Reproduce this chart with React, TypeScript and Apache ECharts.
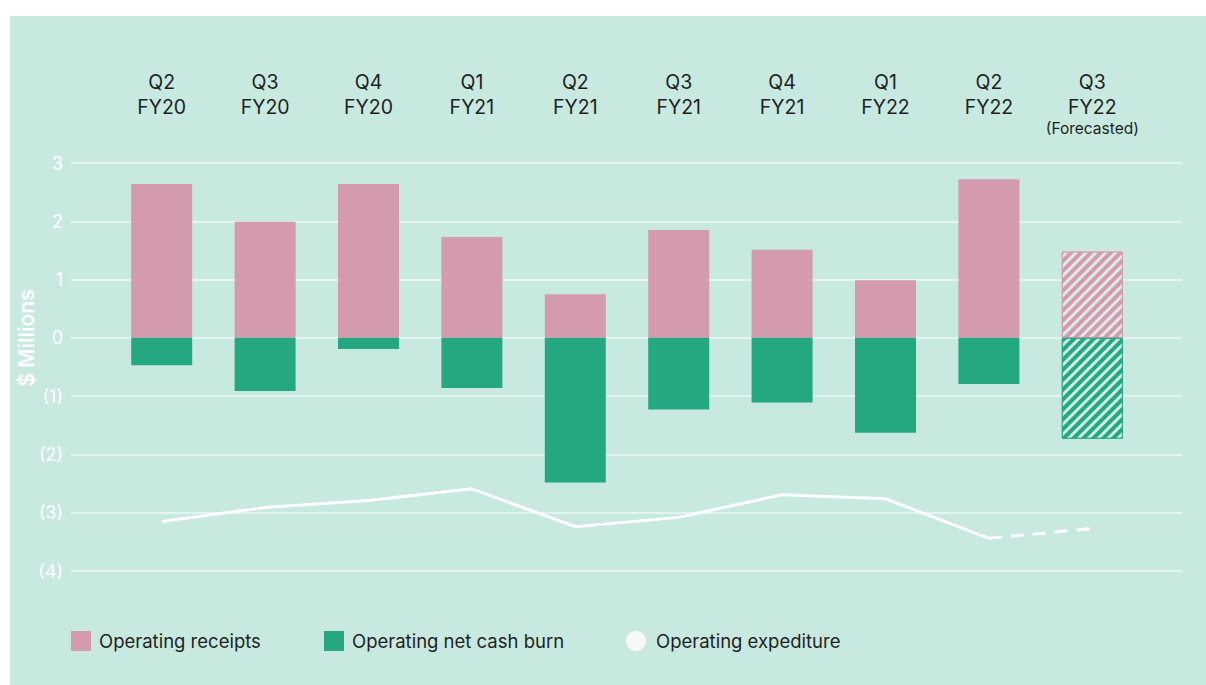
import React, { useEffect, useRef } from "react";
import * as echarts from "echarts";

const categories = [
  "Q2\nFY20", "Q3\nFY20", "Q4\nFY20", "Q1\nFY21", "Q2\nFY21",
  "Q3\nFY21", "Q4\nFY21", "Q1\nFY22", "Q2\nFY22", "Q3\nFY22",
];
const forecastNote = "(Forecasted)";
const receipts = [2.64, 1.99, 2.64, 1.73, 0.75, 1.85, 1.51, 0.99, 2.72, 1.48];
const netCashBurn = [-0.47, -0.91, -0.19, -0.86, -2.48, -1.23, -1.11, -1.63, -0.79, -1.73];
const expenditure = [-3.15, -2.91, -2.79, -2.59, -3.24, -3.08, -2.69, -2.76, -3.44, -3.27];
const forecastIndex = 9;
const yTicks = [-4, -3, -2, -1, 0, 1, 2, 3];

const PINK = "#d49aad";
const GREEN = "#25a882";
const BG = "#c8e9e0";
const GRID = "#eef8f5";
const TEXT = "#1f1f1f";
const FONT = "Inter, 'Noto Sans', sans-serif";

const fmtY = (v: number) => (v < 0 ? `(${Math.abs(v)})` : `${v}`);

const decal = {
  symbol: "rect",
  symbolSize: 1,
  dashArrayX: [1, 0],
  dashArrayY: [2.5, 3.5],
  rotation: -Math.PI / 4,
  color: "rgba(222,244,237,0.92)",
};

export default function App() {
  const ref = useRef<HTMLDivElement>(null);
  useEffect(() => {
    if (!ref.current) return;
    const chart = echarts.init(ref.current, undefined, { renderer: "svg" });
    const yMin = yTicks[0];
    const yMax = yTicks[yTicks.length - 1];
    const solid = expenditure.map((v, i) => (i <= forecastIndex - 1 ? v : null));
    const dashed = expenditure.map((v, i) => (i >= forecastIndex - 1 ? v : null));
    const legendText = { color: TEXT, fontSize: 18.5, fontFamily: FONT, padding: [0, 0, 0, 3] };
    chart.setOption({
      animation: false,
      textStyle: { fontFamily: FONT },
      graphic: [
        {
          type: "rect",
          z: -10,
          shape: { x: 10, y: 16, width: 1196, height: 669 },
          style: { fill: BG },
        },
        {
          type: "text",
          x: 26,
          y: 338,
          rotation: Math.PI / 2,
          style: {
            text: "$ Millions",
            fill: "#ffffff",
            font: `600 21px ${FONT}`,
            align: "center",
            verticalAlign: "middle",
          },
        },
      ],
      grid: [
        { left: 71, right: 24, top: 163, bottom: 114 },
        { left: 110, right: 62, top: 163, bottom: 114 },
      ],
      legend: [
        {
          left: 66, top: 626, itemWidth: 20, itemHeight: 20, itemGap: 8, icon: "rect",
          data: ["Operating receipts"],
          textStyle: legendText,
          selectedMode: false,
        },
        {
          left: 319, top: 626, itemWidth: 20, itemHeight: 20, itemGap: 8, icon: "rect",
          data: ["Operating net cash burn"],
          textStyle: legendText,
          selectedMode: false,
        },
        {
          left: 621, top: 626, itemWidth: 20, itemHeight: 20, itemGap: 10,
          data: [{ name: "Operating expediture", icon: "circle", itemStyle: { color: "#f8f8f8" } }],
          textStyle: { ...legendText, padding: [0, 0, 0, 5] },
          selectedMode: false,
        },
      ],
      xAxis: [
        {
          type: "category",
          gridIndex: 0,
          data: categories,
          show: false,
        },
        {
          type: "category",
          gridIndex: 1,
          position: "top",
          data: categories,
          axisLine: { show: false },
          axisTick: { show: false },
          axisLabel: {
            interval: 0,
            margin: 94,
            verticalAlign: "top",
            color: TEXT,
            fontSize: 19.5,
            lineHeight: 25,
            fontFamily: FONT,
            formatter: (v: string, i: number) => {
              const lines = v.split("\n").map((s) => `{a|${s}}`).join("\n");
              return i === forecastIndex ? `${lines}\n{b|${forecastNote}}` : lines;
            },
            rich: {
              a: { fontSize: 19.5, lineHeight: 25, color: TEXT, fontFamily: FONT },
              b: { fontSize: 15.5, lineHeight: 19, color: TEXT, fontFamily: FONT },
            },
          },
        },
      ],
      yAxis: [
        {
          type: "value",
          gridIndex: 0,
          min: yMin,
          max: yMax,
          interval: 1,
          axisLine: { show: false },
          axisTick: { show: false },
          splitLine: { lineStyle: { color: GRID, width: 1.5 } },
          axisLabel: {
            color: "#ffffff",
            fontSize: 18,
            margin: 8,
            fontFamily: FONT,
            formatter: fmtY,
          },
        },
        {
          type: "value",
          gridIndex: 1,
          min: yMin,
          max: yMax,
          interval: 1,
          show: false,
        },
      ],
      series: [
        {
          name: "Operating receipts",
          type: "bar",
          xAxisIndex: 1,
          yAxisIndex: 1,
          stack: "s",
          barWidth: 61,
          itemStyle: { color: PINK },
          data: receipts.map((v, i) =>
            i === forecastIndex
              ? { value: v, itemStyle: { color: PINK, decal, borderColor: PINK, borderWidth: 1 } }
              : v
          ),
        },
        {
          name: "Operating net cash burn",
          type: "bar",
          xAxisIndex: 1,
          yAxisIndex: 1,
          stack: "s",
          barWidth: 61,
          itemStyle: { color: GREEN },
          data: netCashBurn.map((v, i) =>
            i === forecastIndex
              ? { value: v, itemStyle: { color: GREEN, decal, borderColor: GREEN, borderWidth: 1 } }
              : v
          ),
        },
        {
          name: "Operating expediture",
          type: "line",
          xAxisIndex: 1,
          yAxisIndex: 1,
          symbol: "none",
          itemStyle: { color: "#f8f8f8" },
          lineStyle: { color: "#ffffff", width: 3 },
          data: solid,
          z: 5,
        },
        {
          name: "Operating expediture forecast",
          type: "line",
          xAxisIndex: 1,
          yAxisIndex: 1,
          symbol: "none",
          lineStyle: { color: "#ffffff", width: 3, type: [13, 9] },
          data: dashed,
          z: 5,
        },
      ],
    });
    return () => chart.dispose();
  }, []);
  return (
    <div
      style={{ position: "fixed", left: 0, top: 0, width: 1206, height: 685, background: "#ffffff" }}
    >
      <div ref={ref} style={{ width: 1206, height: 685 }} />
    </div>
  );
}
